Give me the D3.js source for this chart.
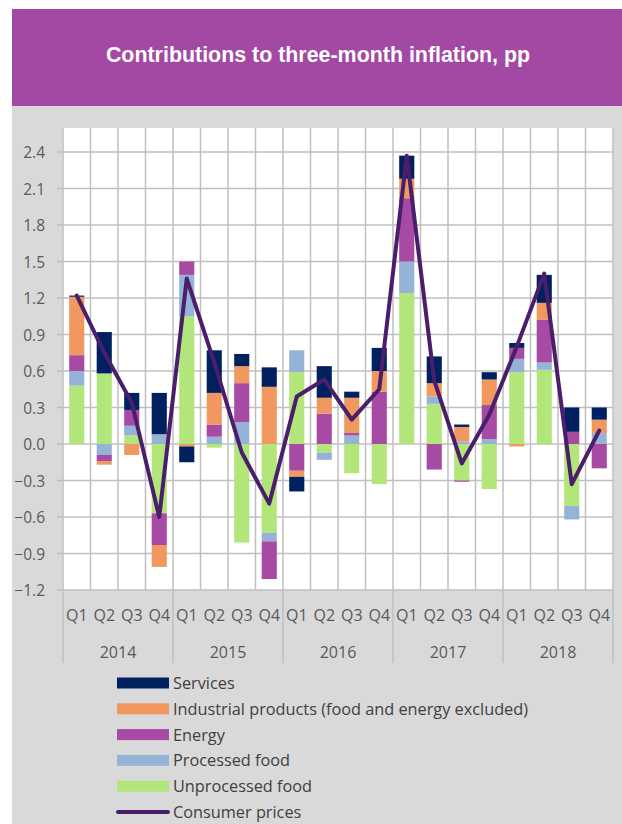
<!DOCTYPE html>
<html>
<head>
<meta charset="utf-8">
<script src="https://cdn.jsdelivr.net/npm/d3@7"></script>
<style>
  body { margin: 0; background: #fff; }
  text { font-family: "Open Sans", sans-serif; fill: #595959; }
</style>
</head>
<body>
<div id="chart"></div>
<script>
// data
var years = ["2014", "2015", "2016", "2017", "2018"];
var quarters = ["Q1", "Q2", "Q3", "Q4"];
var yTicks = [-1.2, -0.9, -0.6, -0.3, 0.0, 0.3, 0.6, 0.9, 1.2, 1.5, 1.8, 2.1, 2.4];

var unprocessedFood = [0.48, 0.58, 0.07, -0.57, 1.05, -0.03, -0.81, -0.73, 0.59, -0.07, -0.24, -0.33, 1.24, 0.33, -0.30, -0.37, 0.59, 0.61, -0.51, 0.0];
var processedFood = [0.12, -0.09, 0.08, 0.08, 0.34, 0.06, 0.18, -0.07, 0.18, -0.06, 0.07, 0.0, 0.26, 0.06, 0.02, 0.04, 0.11, 0.06, -0.11, 0.09];
var energy = [0.13, -0.05, 0.13, -0.26, 0.11, 0.10, 0.32, -0.31, -0.22, 0.25, 0.02, 0.43, 0.52, -0.21, -0.01, 0.28, 0.09, 0.35, 0.10, -0.20];
var industrial = [0.48, -0.03, -0.09, -0.18, -0.02, 0.26, 0.14, 0.47, -0.05, 0.13, 0.29, 0.17, 0.16, 0.11, 0.12, 0.21, -0.02, 0.14, 0.0, 0.11];
var services = [0.01, 0.34, 0.14, 0.34, -0.13, 0.35, 0.10, 0.16, -0.12, 0.26, 0.05, 0.19, 0.19, 0.22, 0.02, 0.06, 0.04, 0.23, 0.20, 0.10];
var consumerPrices = [1.22, 0.75, 0.34, -0.60, 1.36, 0.67, -0.07, -0.49, 0.39, 0.53, 0.20, 0.45, 2.37, 0.52, -0.16, 0.24, 0.80, 1.40, -0.33, 0.11];

var seriesKeys = ["unprocessed", "processed", "energy", "industrial", "services"];
var colors = {
  unprocessed: "#b3e67a",
  processed: "#95b3d7",
  energy: "#a64aa3",
  industrial: "#f0985f",
  services: "#002060"
};
var lineColor = "#4a1e6a";

// build rows for d3.stack
var rows = [];
years.forEach(function(y, yi) {
  quarters.forEach(function(q, qi) {
    var i = yi * 4 + qi;
    rows.push({
      id: y + q, year: y, quarter: q,
      unprocessed: unprocessedFood[i],
      processed: processedFood[i],
      energy: energy[i],
      industrial: industrial[i],
      services: services[i],
      cpi: consumerPrices[i]
    });
  });
});

var svgWidth = 622, svgHeight = 824;
var plot = { left: 63, right: 613, top: 128, bottom: 590 };

var svg = d3.select("#chart").append("svg")
  .attr("width", svgWidth)
  .attr("height", svgHeight);

// panels
svg.append("rect").attr("x", 12).attr("y", 106).attr("width", 610).attr("height", 718).attr("fill", "#d9d9d9");
svg.append("rect").attr("x", 12).attr("y", 9).attr("width", 610).attr("height", 97).attr("fill", "#a349a4");
svg.append("text")
  .attr("x", 318).attr("y", 55)
  .attr("text-anchor", "middle")
  .attr("dominant-baseline", "central")
  .style("font-family", "'Liberation Sans', Arial, sans-serif")
  .style("font-weight", "bold")
  .style("font-size", "21.4px")
  .style("fill", "#fff")
  .text("Contributions to three-month inflation, pp");

svg.append("rect")
  .attr("x", plot.left).attr("y", plot.top)
  .attr("width", plot.right - plot.left).attr("height", plot.bottom - plot.top)
  .attr("fill", "#fff");

// scales
var x = d3.scaleBand()
  .domain(rows.map(d => d.id))
  .range([plot.left, plot.right])
  .paddingInner(0.45)
  .paddingOuter(0.225);

var y = d3.scaleLinear()
  .domain([-1.2, 2.4])
  .range([590, 152]);

var gridColor = "#bfbfbf";

// horizontal gridlines with small ticks
svg.append("g").selectAll("line")
  .data(yTicks)
  .enter().append("line")
  .attr("x1", plot.left - 6).attr("x2", plot.right)
  .attr("y1", d => y(d)).attr("y2", d => y(d))
  .attr("stroke", gridColor).attr("stroke-width", 1.5);

// vertical gridlines at category boundaries
var step = x.step();
svg.append("g").selectAll("line")
  .data(d3.range(rows.length + 1))
  .enter().append("line")
  .attr("x1", i => plot.left + i * step).attr("x2", i => plot.left + i * step)
  .attr("y1", plot.top).attr("y2", plot.bottom)
  .attr("stroke", gridColor).attr("stroke-width", 1.5);

// y tick labels
svg.append("g").selectAll("text")
  .data(yTicks)
  .enter().append("text")
  .attr("x", 45).attr("y", d => y(d))
  .attr("text-anchor", "end")
  .attr("dominant-baseline", "central")
  .style("font-size", "15.5px")
  .text(d => d3.format(".1f")(d));

// stacked bars
var stack = d3.stack().keys(seriesKeys).offset(d3.stackOffsetDiverging);
var stacked = stack(rows);

svg.append("g").selectAll("g")
  .data(stacked)
  .enter().append("g")
  .attr("fill", d => colors[d.key])
  .selectAll("rect")
  .data(d => d)
  .enter().append("rect")
  .attr("x", d => x(d.data.id))
  .attr("width", x.bandwidth())
  .attr("y", d => y(Math.max(d[0], d[1])))
  .attr("height", d => Math.abs(y(d[0]) - y(d[1])));

// consumer prices line
var line = d3.line()
  .x(d => x(d.id) + x.bandwidth() / 2)
  .y(d => y(d.cpi));

svg.append("path")
  .datum(rows)
  .attr("d", line)
  .attr("fill", "none")
  .attr("stroke", lineColor)
  .attr("stroke-width", 4)
  .attr("stroke-linejoin", "round")
  .attr("stroke-linecap", "round");

// category axis: quarters and years
svg.append("g").selectAll("text")
  .data(rows)
  .enter().append("text")
  .attr("x", d => x(d.id) + x.bandwidth() / 2)
  .attr("y", 615)
  .attr("text-anchor", "middle")
  .attr("dominant-baseline", "central")
  .style("font-size", "16px")
  .text(d => d.quarter);

svg.append("g").selectAll("text")
  .data(years)
  .enter().append("text")
  .attr("x", (d, i) => plot.left + (i * 4 + 2) * step)
  .attr("y", 652)
  .attr("text-anchor", "middle")
  .attr("dominant-baseline", "central")
  .style("font-size", "16px")
  .text(d => d);

svg.append("g").selectAll("line")
  .data(d3.range(years.length + 1))
  .enter().append("line")
  .attr("x1", i => plot.left + i * 4 * step).attr("x2", i => plot.left + i * 4 * step)
  .attr("y1", plot.bottom).attr("y2", 663)
  .attr("stroke", gridColor).attr("stroke-width", 1.5);

// legend
var legendItems = [
  { label: "Services", key: "services" },
  { label: "Industrial products (food and energy excluded)", key: "industrial" },
  { label: "Energy", key: "energy" },
  { label: "Processed food", key: "processed" },
  { label: "Unprocessed food", key: "unprocessed" },
  { label: "Consumer prices", key: "line" }
];

var legend = svg.append("g").selectAll("g")
  .data(legendItems)
  .enter().append("g")
  .attr("transform", (d, i) => `translate(117, ${683 + i * 25.8})`);

legend.filter(d => d.key !== "line").append("rect")
  .attr("x", 0).attr("y", -5.5)
  .attr("width", 52).attr("height", 11)
  .attr("fill", d => colors[d.key]);

legend.filter(d => d.key === "line").append("line")
  .attr("x1", 1).attr("x2", 51)
  .attr("y1", 0).attr("y2", 0)
  .attr("stroke", lineColor)
  .attr("stroke-width", 4)
  .attr("stroke-linecap", "round");

legend.append("text")
  .attr("x", 56).attr("y", 0)
  .attr("dominant-baseline", "central")
  .style("font-size", "16.3px")
  .style("fill", "#404040")
  .text(d => d.label);
</script>
</body>
</html>
